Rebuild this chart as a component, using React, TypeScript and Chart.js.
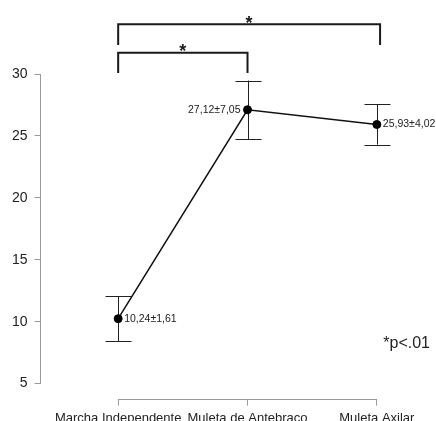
import React, { useEffect, useRef } from "react";
import { Chart, registerables } from "chart.js";

Chart.register(...registerables);

const categories = ["Marcha Independente", "Muleta de Antebraco", "Muleta Axilar"];
const means = [10.24, 27.12, 25.93];
const sds = [1.61, 7.05, 4.02];
const errorBars = [1.81, 2.36, 1.63];
const yTicks = [5, 10, 15, 20, 25, 30];
const brackets = [
  { from: 0, to: 1, y: 31.72, leg: 30.08 },
  { from: 0, to: 2.025, y: 34.02, leg: 32.35 },
];
const labelSide = ["right", "left", "right"];
const noteText = "*p<.01";
const notePos = { x: 2.05, y: 8.22 };

const FONT = "'Liberation Sans', Arial, Helvetica, sans-serif";
const fmt = (v: number) => v.toFixed(2).replace(".", ",");

const customPlugin = {
  id: "custom",
  beforeDatasetsDraw(chart: any) {
    const { ctx, chartArea, scales } = chart;
    const x = scales.x, y = scales.y;
    ctx.save();
    ctx.strokeStyle = "#9a9a9a";
    ctx.lineWidth = 1;
    ctx.beginPath();
    const lx = Math.round(chartArea.left) - 0.5;
    ctx.moveTo(lx, y.getPixelForValue(yTicks[yTicks.length - 1]));
    ctx.lineTo(lx, y.getPixelForValue(yTicks[0]));
    const by = Math.round(chartArea.bottom) + 0.5;
    ctx.moveTo(x.getPixelForValue(0), by);
    ctx.lineTo(x.getPixelForValue(categories.length - 1), by);
    ctx.stroke();
    ctx.strokeStyle = "#222";
    ctx.lineWidth = 1;
    means.forEach((m, i) => {
      const px = Math.round(x.getPixelForValue(i)) + 0.5;
      const top = y.getPixelForValue(m + errorBars[i]);
      const bot = y.getPixelForValue(m - errorBars[i]);
      ctx.beginPath();
      ctx.moveTo(px, top);
      ctx.lineTo(px, bot);
      ctx.moveTo(px - 13, Math.round(top) + 0.5);
      ctx.lineTo(px + 13, Math.round(top) + 0.5);
      ctx.moveTo(px - 13, Math.round(bot) + 0.5);
      ctx.lineTo(px + 13, Math.round(bot) + 0.5);
      ctx.stroke();
    });
    ctx.restore();
  },
  afterDraw(chart: any) {
    const { ctx, scales } = chart;
    const x = scales.x, y = scales.y;
    ctx.save();
    ctx.fillStyle = "#222";
    ctx.font = `10.5px ${FONT}`;
    ctx.textBaseline = "middle";
    means.forEach((m, i) => {
      const px = x.getPixelForValue(i);
      const py = y.getPixelForValue(m);
      const t = `${fmt(m)}±${fmt(sds[i])}`;
      if (labelSide[i] === "left") {
        ctx.textAlign = "right";
        ctx.fillText(t, px - 7, py);
      } else {
        ctx.textAlign = "left";
        ctx.fillText(t, px + 6, py);
      }
    });
    ctx.strokeStyle = "#1a1a1a";
    ctx.lineWidth = 2;
    brackets.forEach((b) => {
      const x1 = x.getPixelForValue(b.from);
      const x2 = x.getPixelForValue(b.to);
      const yb = y.getPixelForValue(b.y);
      const yl = y.getPixelForValue(b.leg);
      ctx.beginPath();
      ctx.moveTo(x1, yl);
      ctx.lineTo(x1, yb);
      ctx.lineTo(x2, yb);
      ctx.lineTo(x2, yl);
      ctx.stroke();
      ctx.fillStyle = "#1a1a1a";
      ctx.font = `bold 18px ${FONT}`;
      ctx.textAlign = "center";
      ctx.textBaseline = "alphabetic";
      ctx.fillText("*", (x1 + x2) / 2, yb + 4.5);
    });
    ctx.fillStyle = "#222";
    ctx.font = `16px ${FONT}`;
    ctx.textAlign = "left";
    ctx.textBaseline = "middle";
    ctx.fillText(noteText, x.getPixelForValue(notePos.x), y.getPixelForValue(notePos.y));
    ctx.restore();
  },
};

export default function App() {
  const ref = useRef<HTMLCanvasElement | null>(null);
  useEffect(() => {
    if (!ref.current) return;
    const chart = new Chart(ref.current, {
      type: "line",
      data: {
        datasets: [
          {
            data: means.map((m, i) => ({ x: i, y: m })),
            borderColor: "#111",
            borderWidth: 1.5,
            pointRadius: 4,
            pointBackgroundColor: "#000",
            pointBorderColor: "#000",
            pointBorderWidth: 1,
            tension: 0,
          },
        ],
      },
      options: {
        animation: false,
        responsive: false,
        devicePixelRatio: 1,
        layout: { padding: { top: 20, left: 5, right: 6, bottom: 8.8 } },
        plugins: { legend: { display: false }, tooltip: { enabled: false } },
        scales: {
          x: {
            type: "linear",
            min: -0.6,
            max: 2.411,
            afterBuildTicks: (s: any) => {
              s.ticks = categories.map((_, i) => ({ value: i }));
            },
            ticks: {
              callback: (v: any) => categories[v as number] ?? "",
              autoSkip: false,
              maxRotation: 0,
              minRotation: 0,
              padding: 5,
              color: "#222",
              font: { family: FONT, size: 13 },
            },
            grid: { drawOnChartArea: false, drawTicks: true, tickLength: 7, color: "#9a9a9a" },
            border: { display: false },
          },
          y: {
            type: "linear",
            min: 3.785,
            max: 34.37,
            afterBuildTicks: (s: any) => {
              s.ticks = yTicks.map((v) => ({ value: v }));
            },
            ticks: {
              padding: 7,
              color: "#222",
              font: { family: FONT, size: 14 },
            },
            grid: { drawOnChartArea: false, drawTicks: true, tickLength: 6, color: "#9a9a9a" },
            border: { display: false },
          },
        },
      },
      plugins: [customPlugin],
    });
    return () => chart.destroy();
  }, []);
  return (
    <div style={{ position: "absolute", left: 0, top: 0, width: 436, height: 421, overflow: "hidden", background: "#fff" }}>
      <canvas ref={ref} width={436} height={440} style={{ width: 436, height: 440, display: "block" }} />
    </div>
  );
}
